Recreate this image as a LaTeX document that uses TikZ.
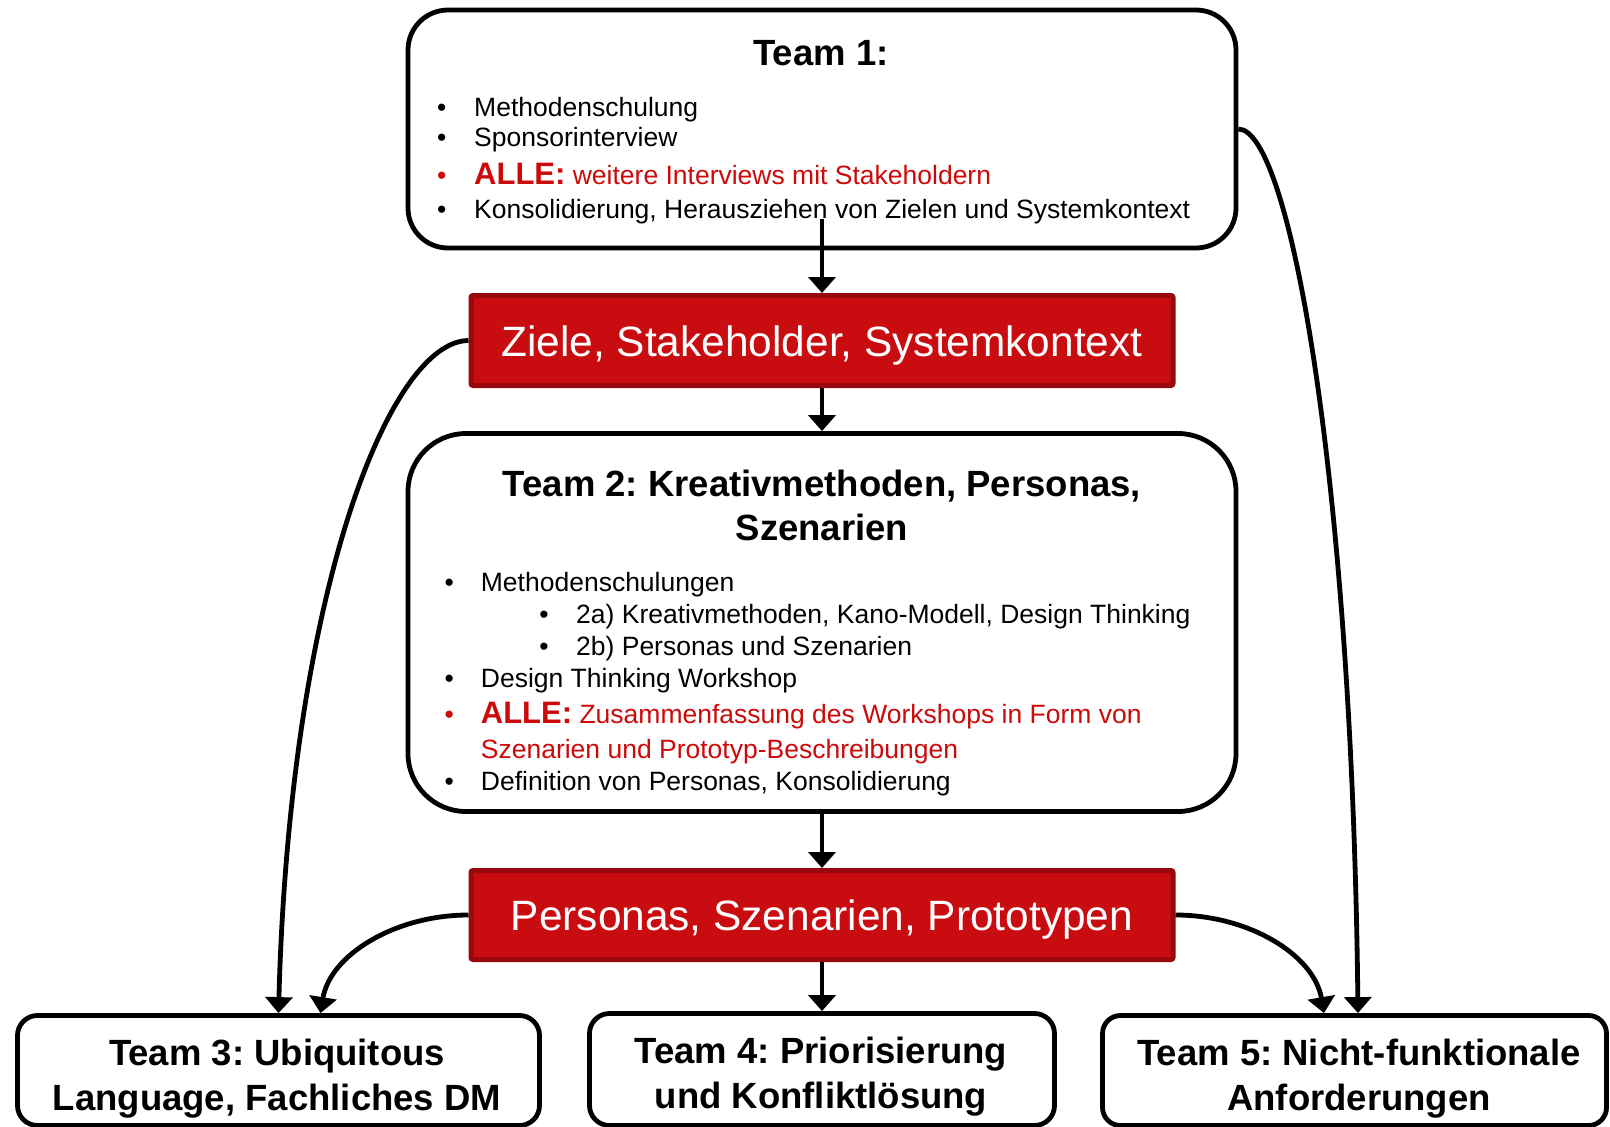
\documentclass[tikz,border=0pt]{standalone}
\usepackage{fontspec}
\setmainfont{Liberation Sans}
\usetikzlibrary{arrows.meta,calc}

\definecolor{boxred}{RGB}{200,12,16}
\definecolor{boxredline}{RGB}{152,8,12}
\definecolor{alertred}{RGB}{204,10,10}

\newcommand\fs[1]{\fontsize{#1}{#1}\selectfont}
\newcommand\allelabel{\bfseries\fontsize{31}{31}\selectfont ALLE:}
\frenchspacing

\begin{document}
\begin{tikzpicture}[x=1pt,y=-1pt,
  teambox/.style={draw=black, line width=4.8pt, fill=white, inner sep=0pt},
  result/.style={draw=boxredline, line width=5pt, fill=boxred, rounded corners=2pt,
    text=white, inner sep=0pt, font=\fs{42.4}, text height=31pt, text depth=0pt},
  flow/.style={line width=4.8pt, -{Triangle[width=27pt,length=16pt]}},
  head/.style={anchor=base, inner sep=0pt, font=\bfseries\fs{36.5}},
  item/.style={anchor=base west, inner sep=0pt, font=\fs{26.5}},
  dot/.style={anchor=base, inner sep=0pt, font=\fs{26.5}},
]
\useasboundingbox (0,0) rectangle (1610,1127);

% boxes
\node[teambox, rounded corners=40pt, minimum width=828pt, minimum height=238pt] (team1) at (822,129) {};
\node[result, minimum width=702pt, minimum height=90pt] (goals) at (822,340.5) {Ziele, Stakeholder, Systemkontext};
\node[teambox, rounded corners=58pt, minimum width=828pt, minimum height=378pt] (team2) at (822,622.5) {};
\node[result, minimum width=702pt, minimum height=89pt] (personas) at (822,915) {Personas, Szenarien, Prototypen};
\node[teambox, rounded corners=20pt, minimum width=522pt, minimum height=110pt] (team3) at (278.5,1070.5) {};
\node[teambox, rounded corners=20pt, minimum width=465pt, minimum height=112pt] (team4) at (822,1069.5) {};
\node[teambox, rounded corners=18pt, minimum width=504pt, minimum height=110pt] (team5) at (1354.5,1070.5) {};

% team 1
\node[head] (t1h) at (821,65) {Team 1:};
\node[dot] (t1d1) at (441.7,116) {•};
\node[item] (t1i1) at (474,116) {Methodenschulung};
\node[dot] (t1d2) at (441.7,146.5) {•};
\node[item] (t1i2) at (474,146.5) {Sponsorinterview};
\node[dot, text=alertred] (t1d3) at (441.7,184) {•};
\node[item, text=alertred] (t1i3) at (474,184) {{\allelabel} weitere Interviews mit Stakeholdern};
\node[dot] (t1d4) at (441.7,218.5) {•};
\node[item] (t1i4) at (474,218.5) {Konsolidierung, Herausziehen von Zielen und Systemkontext};

% team 2
\node[head] (t2h1) at (822,496) {Team 2: Kreativmethoden, Personas,};
\node[head] (t2h2) at (822,540) {Szenarien};
\node[dot] (t2d1) at (449.3,591.7) {•};
\node[item] (t2i1) at (480.7,591.7) {Methodenschulungen};
\node[dot] (t2d2) at (544,623.3) {•};
\node[item] (t2i2) at (576,623.3) {2a) Kreativmethoden, Kano-Modell, Design Thinking};
\node[dot] (t2d3) at (544,655) {•};
\node[item] (t2i3) at (576,655) {2b) Personas und Szenarien};
\node[dot] (t2d4) at (449.3,687) {•};
\node[item] (t2i4) at (480.7,687) {Design Thinking Workshop};
\node[dot, text=alertred] (t2d5) at (449.3,723.8) {•};
\node[item, text=alertred] (t2i5) at (480.7,723.8) {{\allelabel} Zusammenfassung des Workshops in Form von};
\node[item, text=alertred] (t2i6) at (480.7,758) {Szenarien und Prototyp-Beschreibungen};
\node[dot] (t2d7) at (449.3,790) {•};
\node[item] (t2i7) at (480.7,790) {Definition von Personas, Konsolidierung};

% teams 3 to 5
\node[head] (t3a) at (277,1065.5) {Team 3: Ubiquitous};
\node[head] (t3b) at (277,1110.5) {Language, Fachliches DM};
\node[head] (t4a) at (821,1063) {Team 4: Priorisierung};
\node[head] (t4b) at (821,1108) {und Konfliktlösung};
\node[head] (t5a) at (1359,1065.5) {Team 5: Nicht-funktionale};
\node[head] (t5b) at (1359,1110.5) {Anforderungen};

% connectors
\coordinate (stem) at (822,219);
\draw[flow] (stem) -- (goals.north);
\draw[flow] (goals.south) -- (team2.north);
\draw[flow] (team2.south) -- (personas.north);
\draw[flow] (personas.south) -- (team4.north);
\draw[flow] (goals.west) .. controls (390,341) and (290,590) .. (team3.north);
\draw[flow] (team1.east) .. controls (1290,129) and (1352,480) .. ($(team5.north)+(3.5,0)$);
\draw[flow] (personas.west) .. controls (395,915) and (330,955) .. ($(team3.north)+(42,0)$);
\draw[flow] (personas.east) .. controls (1249,915) and (1314,955) .. ($(team5.north)+(-30.5,0)$);
\end{tikzpicture}
\end{document}
